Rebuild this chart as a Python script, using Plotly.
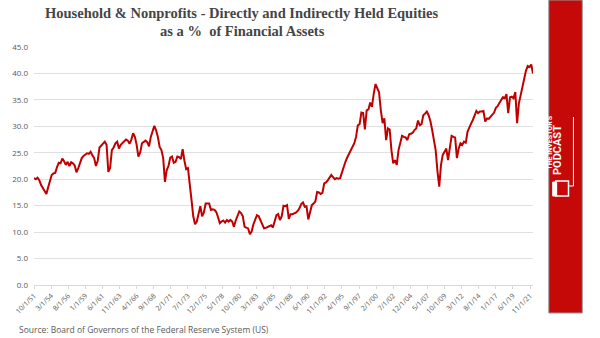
import plotly.graph_objects as go

# ---------------- data ----------------
quarters = [
    "1951-10", "1952-01", "1952-04", "1952-07", "1952-10", "1953-01", "1953-04", "1953-07", "1953-10",
    "1954-01", "1954-04", "1954-07", "1954-10", "1955-01", "1955-04", "1955-07", "1955-10",
    "1956-01", "1956-04", "1956-07", "1956-10", "1957-01", "1957-04", "1957-07", "1957-10",
    "1958-01", "1958-04", "1958-07", "1958-10", "1959-01", "1959-04", "1959-07", "1959-10",
    "1960-01", "1960-04", "1960-07", "1960-10", "1961-01", "1961-04", "1961-07", "1961-10",
    "1962-01", "1962-04", "1962-07", "1962-10", "1963-01", "1963-04", "1963-07", "1963-10",
    "1964-01", "1964-04", "1964-07", "1964-10", "1965-01", "1965-04", "1965-07", "1965-10",
    "1966-01", "1966-04", "1966-07", "1966-10", "1967-01", "1967-04", "1967-07", "1967-10",
    "1968-01", "1968-04", "1968-07", "1968-10", "1969-01", "1969-04", "1969-07", "1969-10",
    "1970-01", "1970-04", "1970-07", "1970-10", "1971-01", "1971-04", "1971-07", "1971-10",
    "1972-01", "1972-04", "1972-07", "1972-10", "1973-01", "1973-04", "1973-07", "1973-10",
    "1974-01", "1974-04", "1974-07", "1974-10", "1975-01", "1975-04", "1975-07", "1975-10",
    "1976-01", "1976-04", "1976-07", "1976-10", "1977-01", "1977-04", "1977-07", "1977-10",
    "1978-01", "1978-04", "1978-07", "1978-10", "1979-01", "1979-04", "1979-07", "1979-10",
    "1980-01", "1980-04", "1980-07", "1980-10", "1981-01", "1981-04", "1981-07", "1981-10",
    "1982-01", "1982-04", "1982-07", "1982-10", "1983-01", "1983-04", "1983-07", "1983-10",
    "1984-01", "1984-04", "1984-07", "1984-10", "1985-01", "1985-04", "1985-07", "1985-10",
    "1986-01", "1986-04", "1986-07", "1986-10", "1987-01", "1987-04", "1987-07", "1987-10",
    "1988-01", "1988-04", "1988-07", "1988-10", "1989-01", "1989-04", "1989-07", "1989-10",
    "1990-01", "1990-04", "1990-07", "1990-10", "1991-01", "1991-04", "1991-07", "1991-10",
    "1992-01", "1992-04", "1992-07", "1992-10", "1993-01", "1993-04", "1993-07", "1993-10",
    "1994-01", "1994-04", "1994-07", "1994-10", "1995-01", "1995-04", "1995-07", "1995-10",
    "1996-01", "1996-04", "1996-07", "1996-10", "1997-01", "1997-04", "1997-07", "1997-10",
    "1998-01", "1998-04", "1998-07", "1998-10", "1999-01", "1999-04", "1999-07", "1999-10",
    "2000-01", "2000-04", "2000-07", "2000-10", "2001-01", "2001-04", "2001-07", "2001-10",
    "2002-01", "2002-04", "2002-07", "2002-10", "2003-01", "2003-04", "2003-07", "2003-10",
    "2004-01", "2004-04", "2004-07", "2004-10", "2005-01", "2005-04", "2005-07", "2005-10",
    "2006-01", "2006-04", "2006-07", "2006-10", "2007-01", "2007-04", "2007-07", "2007-10",
    "2008-01", "2008-04", "2008-07", "2008-10", "2009-01", "2009-04", "2009-07", "2009-10",
    "2010-01", "2010-04", "2010-07", "2010-10", "2011-01", "2011-04", "2011-07", "2011-10",
    "2012-01", "2012-04", "2012-07", "2012-10", "2013-01", "2013-04", "2013-07", "2013-10",
    "2014-01", "2014-04", "2014-07", "2014-10", "2015-01", "2015-04", "2015-07", "2015-10",
    "2016-01", "2016-04", "2016-07", "2016-10", "2017-01", "2017-04", "2017-07", "2017-10",
    "2018-01", "2018-04", "2018-07", "2018-10", "2019-01", "2019-04", "2019-07", "2019-10",
    "2020-01", "2020-04", "2020-07", "2020-10", "2021-01", "2021-04", "2021-07", "2021-10",
    "2022-01", "2022-04",
]

equity_share = [
    20.2, 20.0, 20.3, 19.8, 18.9, 18.4, 17.8, 17.2, 18.5,
    19.7, 20.8, 21.1, 21.2, 22.3, 23.1, 23.0, 23.9,
    23.4, 22.7, 23.3, 22.5, 23.2, 23.0, 22.6, 21.3,
    22.1, 23.0, 24.0, 24.4, 24.7, 24.9, 24.8, 25.2,
    24.5, 24.0, 22.5, 23.5, 26.0, 26.4, 26.8, 27.1,
    26.5, 21.4, 22.1, 25.5, 26.0, 26.8, 27.1, 25.8,
    26.5, 26.8, 27.2, 27.5, 27.3, 26.7, 27.5, 28.7,
    28.0, 26.5, 24.3, 25.0, 26.8, 27.1, 27.3, 27.0,
    26.2, 28.0, 29.0, 30.1, 29.2, 28.0, 26.1, 25.5,
    24.0, 19.5, 21.7, 22.5, 24.1, 24.3, 23.1, 23.3,
    24.3, 24.2, 23.8, 25.7, 23.5, 21.9, 22.1, 18.3,
    16.1, 13.0, 11.5, 12.0, 13.6, 14.9, 13.0, 13.7,
    15.4, 15.4, 15.4, 14.2, 14.3, 14.2, 13.8, 12.8,
    11.7, 12.0, 12.2, 11.8, 12.3, 12.0, 12.3, 12.0,
    11.0, 12.2, 13.2, 13.9, 13.6, 13.0, 11.0, 10.9,
    10.7, 9.6, 10.1, 11.5, 12.5, 13.2, 13.0, 12.3,
    11.5, 10.7, 10.8, 11.0, 11.2, 11.3, 10.9, 12.0,
    13.2, 13.4, 12.3, 13.0, 15.0, 14.9, 15.1, 12.5,
    13.4, 13.4, 13.5, 13.7, 14.0, 14.5, 15.3, 15.6,
    14.8, 14.9, 12.4, 13.6, 15.1, 15.4, 15.8, 17.6,
    17.5, 17.2, 17.4, 19.2, 19.4, 19.8, 20.3, 20.8,
    20.4, 20.0, 20.2, 20.1, 20.2, 21.3, 22.4, 23.3,
    24.1, 24.8, 25.4, 26.0, 26.8, 28.0, 30.2, 30.4,
    32.6, 32.5, 29.4, 33.0, 33.2, 34.5, 33.7, 36.2,
    38.0, 37.2, 36.4, 33.0, 30.6, 31.5, 27.4, 29.6,
    29.4, 25.5, 23.0, 23.6, 22.7, 25.5, 26.8, 28.2,
    28.0, 27.9, 27.4, 28.5, 28.6, 28.8, 29.3, 29.6,
    31.1, 30.2, 30.4, 32.1, 32.4, 32.8, 32.1, 31.0,
    29.3, 27.7, 25.5, 21.5, 18.6, 22.7, 24.6, 25.2,
    25.8, 23.6, 25.8, 28.2, 28.0, 27.9, 24.0, 25.8,
    26.8, 26.5, 27.1, 26.9, 29.0, 29.6, 30.5, 31.2,
    32.1, 32.9, 32.5, 32.8, 32.8, 32.9, 30.9, 31.5,
    31.4, 31.8, 32.3, 32.6, 33.5, 33.8, 34.4, 35.0,
    35.5, 35.3, 36.1, 32.5, 35.5, 35.6, 35.3, 36.5,
    30.6, 34.3, 35.8, 37.5, 39.3, 40.5, 41.4, 41.2,
    41.7, 40.0,
]

x_tick_labels = [
    "10/1/51", "3/1/54", "8/1/56", "1/1/59", "6/1/61", "11/1/63", "4/1/66", "9/1/68",
    "2/1/71", "7/1/73", "12/1/75", "5/1/78", "10/1/80", "3/1/83", "8/1/85", "1/1/88",
    "6/1/90", "11/1/92", "4/1/95", "9/1/97", "2/1/00", "7/1/02", "12/1/04", "5/1/07",
    "10/1/09", "3/1/12", "8/1/14", "1/1/17", "6/1/19", "11/1/21",
]
y_tick_values = [0, 5, 10, 15, 20, 25, 30, 35, 40, 45]

title_line1 = "Household &amp; Nonprofits - Directly and Indirectly Held Equities"
title_line2 = "as a %  of Financial Assets"
source_text = "Source: Board of Governors of the Federal Reserve System (US)"


def label_to_date(lbl):
    m, d, y = lbl.split("/")
    y = int(y)
    y = 1900 + y if y > 30 else 2000 + y
    return f"{y:04d}-{int(m):02d}-{int(d):02d}"


x_dates = [q + "-01" for q in quarters]
x_tick_dates = [label_to_date(t) for t in x_tick_labels]

# ---------------- layout geometry (pixels) ----------------
W, H = 600, 338
PL, PR, PT, PB = 27, 533, 47, 285   # plot area


def px(x):
    return (x - PL) / (PR - PL)


def py(y):
    return (PB - y) / (PB - PT)


fig = go.Figure()
fig.add_trace(go.Scatter(
    x=x_dates, y=equity_share, mode="lines",
    line=dict(color="#C00000", width=2),
    hoverinfo="skip", showlegend=False,
))

grey = "#595959"
fig.update_layout(
    width=W, height=H,
    margin=dict(l=PL, r=W - PR, t=PT, b=H - PB, pad=0),
    paper_bgcolor="white", plot_bgcolor="white",
    showlegend=False,
    xaxis=dict(
        type="date", range=["1951-10-01", "2022-04-01"],
        tickmode="array", tickvals=x_tick_dates, ticktext=x_tick_labels,
        tickangle=-45, tickfont=dict(family="Open Sans", size=7, color=grey),
        showgrid=False, showline=True, linecolor="#d9d9d9", linewidth=1,
        ticks="outside", ticklen=3, tickcolor="#d9d9d9", zeroline=False,
    ),
    yaxis=dict(
        range=[0, 45], tickmode="array", tickvals=y_tick_values,
        tickformat=".1f", tickfont=dict(family="Open Sans", size=8, color=grey),
        showgrid=True, gridcolor="#e0e0e0", gridwidth=1,
        zeroline=False, showline=False, ticks="", ticklabelstandoff=5,
    ),
)

# two-line title
title_font = dict(family="Liberation Serif", size=14.5, color="#454545")
fig.add_annotation(xref="paper", yref="paper", x=px(238), y=py(13),
                   xanchor="center", yanchor="middle", showarrow=False,
                   text=f"<b>{title_line1}</b>", font=title_font)
fig.add_annotation(xref="paper", yref="paper", x=px(238), y=py(31),
                   xanchor="center", yanchor="middle", showarrow=False,
                   text=f"<b>{title_line2}</b>", font=title_font)

# red brand bar on the right
fig.add_shape(type="rect", xref="paper", yref="paper",
              x0=px(549), x1=px(583), y0=py(313), y1=py(0),
              fillcolor="#C50808", line=dict(color="#9a9a9a", width=1), layer="above")

# logo texts (rotated)
fig.add_annotation(xref="paper", yref="paper", x=px(556), y=py(143),
                   text="<b>THE INVESTOR'S</b>", textangle=-90, showarrow=False,
                   font=dict(family="Roboto", size=7, color="white"))
fig.add_annotation(xref="paper", yref="paper", x=px(566), y=py(150),
                   text="<b>PODCAST</b>", textangle=-90, showarrow=False,
                   font=dict(family="Roboto", size=11, color="white"))
# logo bracket line and icon
fig.add_shape(type="line", xref="paper", yref="paper",
              x0=px(574), x1=px(574), y0=py(117), y1=py(186),
              line=dict(color="white", width=1))
fig.add_shape(type="line", xref="paper", yref="paper",
              x0=px(569), x1=px(574), y0=py(186), y1=py(186),
              line=dict(color="white", width=1))
fig.add_shape(type="rect", xref="paper", yref="paper",
              x0=px(556), x1=px(569), y0=py(196), y1=py(181),
              fillcolor="rgba(0,0,0,0)", line=dict(color="white", width=1.5))
fig.add_shape(type="rect", xref="paper", yref="paper",
              x0=px(553), x1=px(557), y0=py(196), y1=py(182),
              fillcolor="white", line=dict(color="white", width=1))

# source note
fig.add_annotation(xref="paper", yref="paper", x=px(10), y=py(329),
                   xanchor="left", yanchor="middle", text=source_text, showarrow=False,
                   font=dict(family="Open Sans", size=8.5, color=grey))

fig.write_html("out.html")
